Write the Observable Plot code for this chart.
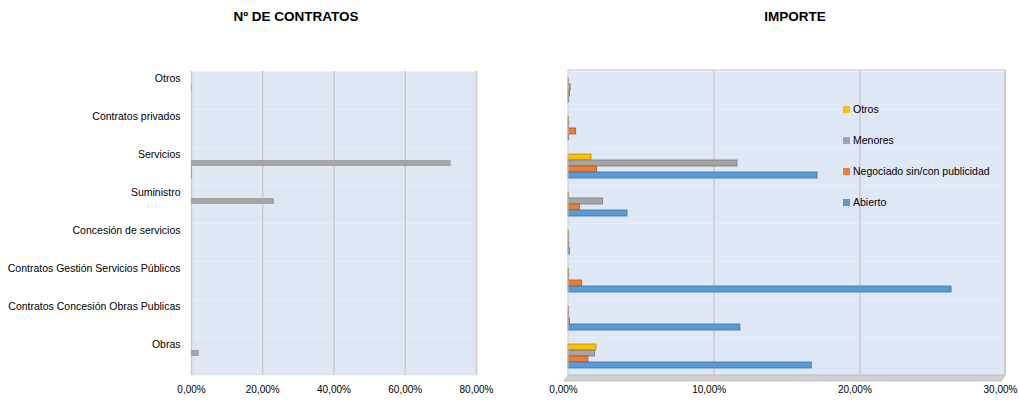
<!DOCTYPE html>
<html><head><meta charset="utf-8">
<script src="https://cdn.jsdelivr.net/npm/d3@7"></script>
<script src="https://cdn.jsdelivr.net/npm/@observablehq/plot@0.6"></script>
<style>
html,body{margin:0;padding:0;background:#fff;}
#wrap{position:relative;width:1019px;height:402px;overflow:hidden;font-family:"Liberation Sans",Arial,sans-serif;color:#000;}
.title{position:absolute;top:9px;font-weight:bold;font-size:13.5px;transform:translateX(-50%);white-space:nowrap;}
.chart{position:absolute;top:0;}
#legend{position:absolute;left:843px;top:103px;font-size:10.5px;}
#legend .item{height:31px;display:flex;align-items:flex-start;}
#legend .sw{width:7px;height:7px;margin-right:3px;margin-top:3px;}
</style></head><body>
<div id="wrap">
  <div class="title" style="left:296px">Nº DE CONTRATOS</div>
  <div class="title" style="left:795px">IMPORTE</div>
  <div class="chart" id="left" style="left:0"></div>
  <div class="chart" id="right" style="left:510px"></div>
  <div id="legend"></div>
</div>
<script>
// Categories, top to bottom
const categories = ["Otros","Contratos privados","Servicios","Suministro","Concesión de servicios","Contratos Gestión Servicios Públicos","Contratos Concesión Obras Publicas","Obras"];
// Series, top to bottom within each category
const series = ["Otros","Menores","Negociado sin/con publicidad","Abierto"];
const colors = ["#ffc000","#a5a5a5","#ed7d31","#5b9bd5"];

// Nº de contratos (share)
const contratosOtros     = [0,     0, 0,     0,     0, 0, 0, 0];
const contratosMenores   = [0.002, 0, 0.729, 0.233, 0, 0, 0, 0.022];
const contratosNegociado = [0,     0, 0.002, 0,     0, 0, 0, 0];
const contratosAbierto   = [0,     0, 0.002, 0,     0, 0, 0, 0];

// Importe (share)
const importeOtros     = [0.0005,0.0005,0.0158,0.0005,0.0005,0.0005,0.0005,0.0192];
const importeMenores   = [0.0015,0.0005,0.116, 0.0236,0.0005,0.0005,0.0005,0.0183];
const importeNegociado = [0.001, 0.0053,0.0195,0.0078,0.0005,0.0094,0.001, 0.0137];
const importeAbierto   = [0.0005,0.0005,0.171, 0.0405,0.001, 0.263, 0.118, 0.167];

const leftTicks = [0,0.2,0.4,0.6,0.8];
const rightTicks = [0,0.1,0.2,0.3];

function toRows(arrays){
  const rows=[];
  categories.forEach((c,i)=>series.forEach((s,j)=>rows.push({category:c,series:s,value:arrays[j][i]})));
  return rows;
}
const fmt = d => (d*100).toFixed(2).replace(".",",")+"%";
const FONT = "Liberation Sans, Arial, sans-serif";

function build(rows, opts){
  const chart = Plot.plot({
    width: opts.width, height: 402,
    marginLeft: opts.ml, marginRight: opts.mr, marginTop: 70, marginBottom: 27,
    style: {fontFamily: FONT, fontSize: "10px", color:"#000", background:"transparent", overflow:"visible"},
    x: {domain: opts.domain},
    y: {domain: series, paddingInner: 0, paddingOuter: 0.8, axis: null},
    fy: {domain: categories, padding: 0, label: null},
    color: {domain: series, range: colors},
    marks: [
      Plot.frame({fill: opts.bg, stroke: null}),
      Plot.gridX({ticks: opts.grid, stroke: "#cccccc", strokeOpacity: 1, strokeWidth: 1.5}),
      Plot.barX(rows, {x: "value", y: "series", fy: "category", fill: "series", inset: 0,
        stroke: opts.edge ? (d => d3.color(colors[series.indexOf(d.series)]).darker(0.9).formatHex()) : null,
        strokeWidth: 0.8}),
      Plot.axisX({ticks: opts.ticks, tickFormat: fmt, tickSize: 0, tickPadding: 10, label: null, dx: opts.tdx || 0}),
      opts.fyAxis
        ? Plot.axisFy({anchor: "left", tickSize: 0, tickPadding: 11, dy: -11.5, label: null, fontSize: 10.5})
        : Plot.axisFy({anchor: "left", tickSize: 0, tickFormat: () => "", label: null})
    ]
  });
  return chart;
}

const left = build(toRows([contratosOtros,contratosMenores,contratosNegociado,contratosAbierto]),
  {width: 510, ml: 191, mr: 34, domain: [0,0.8], ticks: leftTicks, grid: leftTicks, bg: "#dde8f4", fyAxis: true});
document.getElementById("left").appendChild(left);

const right = build(toRows([importeOtros,importeMenores,importeNegociado,importeAbierto]),
  {width: 509, ml: 58, mr: 14, domain: [0,0.3], ticks: rightTicks, grid: [0.1,0.2], bg: "#dfe8f7", fyAxis: false, edge: true, tdx: -5});
document.getElementById("right").appendChild(right);

// 3D wall edges and floor for the right chart, positioned through its own scales
(function(){
  const sx = right.scale("x");
  const x0 = sx.apply(0), x1 = sx.apply(0.3);
  const top = 70, bottom = 402 - 27;
  const g = d3.select(right).append("g");
  g.append("line").attr("x1",x0).attr("x2",x1).attr("y1",top).attr("y2",top).attr("stroke","#d4d4d4").attr("stroke-width",1.5);
  g.append("line").attr("x1",x1).attr("x2",x1).attr("y1",top).attr("y2",bottom).attr("stroke","#cccccc").attr("stroke-width",2);
  g.append("line").attr("x1",x0).attr("x2",x0).attr("y1",top).attr("y2",bottom).attr("stroke","#c8c8c8").attr("stroke-width",1);
  g.append("polygon")
    .attr("points", `${x0-4},${bottom+6} ${x0},${bottom} ${x1},${bottom} ${x1-4},${bottom+6}`)
    .attr("fill","#d0d0d0").attr("stroke","#b8b8b8").attr("stroke-width",0.8);
})();

// Legend
const lg = d3.select("#legend");
series.forEach((s,i)=>{
  const it = lg.append("div").attr("class","item");
  it.append("div").attr("class","sw").style("background",colors[i]);
  it.append("span").text(s);
});
</script>
</body></html>
